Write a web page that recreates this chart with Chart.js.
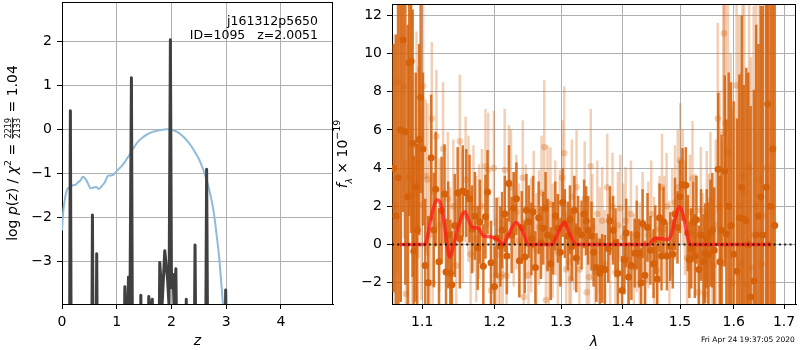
<!DOCTYPE html>
<html><head><meta charset="utf-8">
<script src="https://cdn.jsdelivr.net/npm/chart.js@4.4.1/dist/chart.umd.min.js"></script>
<style>
html,body{margin:0;padding:0;background:#fff;width:800px;height:350px;overflow:hidden;}
#cl{position:absolute;left:0;top:0;}
#cr{position:absolute;left:320px;top:0;}
</style></head><body>
<canvas id="cl" width="345" height="350"></canvas>
<canvas id="cr" width="480" height="350"></canvas>
<script>
// ---------------- LEFT PANEL DATA ----------------
const zTicks = [0, 1, 2, 3, 4];
const lpTicks = [-3, -2, -1, 0, 1, 2];
// smooth (blue) curve
const zB = [0,0.02,0.05,0.08,0.11,0.15,0.20,0.25,0.29,0.34,0.38,0.41,0.44,0.48,0.52,0.56,0.59,0.63,0.67,0.72,
  0.78,0.82,0.84,0.88,0.93,0.98,1.02,1.08,1.14,1.18,1.23,1.28,1.33,1.39,1.45,1.54,1.63,1.72,1.81,1.90,
  1.96,2.05,2.15,2.24,2.33,2.42,2.51,2.58,2.64,2.69,2.73,2.78,2.82,2.87,2.91,2.94,2.97];
const lpB = [-2.3,-1.9,-1.61,-1.42,-1.34,-1.33,-1.27,-1.26,-1.21,-1.16,-1.08,-1.1,-1.15,-1.25,-1.34,-1.33,-1.32,-1.31,-1.36,-1.3,
  -1.21,-1.1,-1.06,-1.05,-1.04,-0.98,-0.92,-0.85,-0.76,-0.68,-0.59,-0.48,-0.38,-0.28,-0.21,-0.13,-0.07,-0.04,-0.02,0.0,
  0.0,-0.03,-0.1,-0.2,-0.33,-0.5,-0.7,-0.92,-1.15,-1.38,-1.6,-1.95,-2.36,-2.9,-3.5,-3.97,-4.5];
// p(z) spikes (dark)
const zP = [0,0.135,0.153,0.17, 0.54,0.556,0.572, 0.62,0.634,0.65,
  1.13,1.148,1.17,1.198,1.214,1.24,1.268,1.29, 1.42,1.44,1.46, 1.565,1.585,1.615,1.65,1.67,
  1.765,1.786,1.83,1.877,1.93,1.955,1.98,2.0,2.03,2.05,2.08,2.105, 2.25,2.27,2.29, 2.41,2.43,2.45,
  2.62,2.642,2.665, 2.97,2.99,3.01, 4.95];
const lpP = [-6,-6,0.42,-6, -6,-1.95,-6, -6,-2.83,-6,
  -6,-3.58,-4.6,-4.5,-3.36,-4.3,1.17,-6, -6,-3.77,-6, -6,-3.8,-4.3,-3.86,-6,
  -6,-3.03,-3.95,-2.76,-3.44,-4.0,2.03,-3.6,-3.3,-4.2,-3.17,-6, -6,-3.86,-6, -6,-2.63,-6,
  -6,-0.91,-6, -6,-3.65,-6, -6];
const annot = ['j161312p5650', 'ID=1095   z=2.0051'];

// ---------------- RIGHT PANEL DATA ----------------
const lamTicks = [1.1, 1.2, 1.3, 1.4, 1.5, 1.6, 1.7];
const fTicks = [-2, 0, 2, 4, 6, 8, 10, 12];
const zeroLevel = [0];
const lamD = [1.063,1.066,1.069,1.072,1.075,1.078,1.081,1.083,1.0855,1.0875,
  1.089,1.0915,1.0935,1.096,1.098,1.101,1.104,1.108,1.112,1.1155,
  1.118,1.1225,1.126,1.130,1.132,1.135,1.138,1.140,1.144,1.148,
  1.151,1.155,1.160,1.1645,1.168,1.172,1.176,1.179,1.184,1.187,
  1.190,1.195,1.200,1.203,1.2085,1.211,1.215,1.218,1.221,1.225,
  1.228,1.232,1.2365,1.240,1.2445,1.247,1.2505,1.2545,1.257,1.2605,
  1.2655,1.269,1.2725,1.276,1.279,1.284,1.2875,1.291,1.295,1.299,
  1.3025,1.306,1.3105,1.314,1.317,1.321,1.324,1.327,1.3325,1.3365,
  1.340,1.343,1.3485,1.352,1.3565,1.362,1.366,1.3705,1.376,1.3785,
  1.384,1.388,1.392,1.399,1.403,1.406,1.410,1.4148,1.4205,1.424,
  1.428,1.4315,1.434,1.438,1.4425,1.4475,1.453,1.456,1.4595,1.4635,
  1.467,1.4705,1.4765,1.4825,1.487,1.491,1.4955,1.500,1.5045,1.5105,
  1.514,1.517,1.5205,1.524,1.527,1.530,1.5345,1.5385,1.543,1.546,
  1.549,1.552,1.556,1.5595,1.563,1.5705,1.5737,1.5768,1.583,1.586,
  1.5905,1.595,1.600,1.6065,1.611,1.6155,1.6195,1.6245,1.6285,1.633,
  1.6395,1.644,1.6485,1.653,1.657,1.664,1.667,1.6725,1.677,1.681];
const fluxD = [4.0,1.5,3.5,6.0,10.7,5.9,2.5,9.5,9.6,5.3,
  -0.35,3.0,0.76,5.5,7.7,5.0,-1.1,-2.0,4.55,0.76,
  2.9,-0.9,1.8,2.65,-1.44,0.5,-1.5,-2.1,1.0,2.7,
  0.3,2.8,2.7,2.4,0.8,1.5,-0.17,1.2,-1.13,1.46,
  2.75,-0.95,-2.2,0.35,-0.1,0.76,1.6,-0.6,3.2,0.5,
  1.9,2.4,-0.85,0.9,-0.65,1.8,1.2,0.3,1.7,-1.2,
  1.4,0.1,0.85,1.9,0.5,-1.0,0.33,1.5,0.85,-0.4,
  2.2,1.1,0.45,1.3,-0.1,1.8,-0.7,0.75,0.5,1.6,
  1.25,0.75,0.45,-0.4,-1.2,-1.5,-1.25,-1.3,-0.2,1.25,
  0.75,0.1,-1.5,-2.4,-0.8,0.6,-1.7,-1.1,-0.45,0.5,
  -0.45,-2.0,1.1,-1.6,0.9,-0.3,-1.0,0.25,-1.8,1.4,
  -0.6,1.2,-0.6,-0.1,-0.5,1.6,0.9,2.5,3.15,3.1,
  0.6,-0.8,-0.2,1.2,-0.6,1.3,-1.3,0.5,-0.9,-0.45,
  0.3,-0.5,0.6,0.75,-0.3,3.94,-0.9,0.75,3.85,0.55,
  2.0,1.0,-0.5,-1.4,1.4,3.0,1.35,1.25,0.0,-2.75,
  -1.9,0.5,1.5,2.5,0.5,3.0,7.36,2.0,5.0,1.0];
const errD = [6.5,9.5,10,9,9,8,9,8,9,7,
  5,6,4.5,5,5,4,3.5,3.5,3.3,3.0,
  3.0,2.8,2.8,2.6,2.8,2.8,2.8,2.8,2.7,2.4,
  2.6,2.4,2.3,2.3,2.3,2.3,2.2,2.2,2.2,2.2,
  2.2,2.2,2.1,2.1,2.1,2.0,2.0,2.0,2.0,2.0,
  1.9,1.9,1.9,1.9,1.9,1.9,1.9,1.9,1.9,1.9,
  1.9,1.9,1.9,1.9,1.9,1.9,1.9,1.8,1.8,1.8,
  1.8,1.8,1.8,1.8,1.8,1.8,1.8,1.8,1.8,1.8,
  1.8,1.8,1.8,1.8,1.8,1.8,1.8,1.8,1.8,1.8,
  1.8,1.8,1.8,1.8,1.8,1.8,1.8,1.8,1.8,1.8,
  1.8,1.8,1.8,1.8,1.8,1.8,1.8,1.8,1.8,1.8,
  1.8,1.8,1.8,1.8,1.8,1.9,1.9,1.9,1.9,2.0,
  2.0,2.0,2.1,2.1,2.2,2.3,2.3,2.4,2.5,2.6,
  2.6,2.7,2.8,3.0,3.3,4.0,4.5,5.0,5.0,6.0,
  7,7.5,8,8,7.5,9,7,8,9,10,
  10,11,9,10,12,14,12,15,15,20];
const lamL = [1.064,1.068,1.0715,1.076,1.0786,1.082,1.087,1.0926,1.095,1.099,
  1.1013,1.1045,1.107,1.110,1.1128,1.114,1.119,1.123,1.128,1.1345,
  1.138,1.142,1.146,1.151,1.155,1.159,1.163,1.166,1.170,1.174,
  1.178,1.182,1.187,1.191,1.195,1.199,1.202,1.206,1.2085,1.212,
  1.2148,1.2175,1.221,1.224,1.228,1.232,1.236,1.2415,1.243,1.246,
  1.250,1.254,1.258,1.262,1.266,1.270,1.274,1.2765,1.279,1.281,
  1.2835,1.287,1.291,1.295,1.298,1.302,1.305,1.308,1.313,1.3154,
  1.317,1.3205,1.3245,1.329,1.3375,1.3408,1.3445,1.3473,1.350,1.354,
  1.358,1.362,1.3661,1.370,1.3743,1.379,1.383,1.388,1.392,1.396,
  1.401,1.405,1.410,1.414,1.419,1.424,1.429,1.434,1.439,1.444,
  1.449,1.454,1.459,1.4635,1.4678,1.472,1.476,1.481,1.486,1.491,
  1.496,1.5005,1.505,1.509,1.513,1.518,1.5227,1.528,1.5337,1.538,
  1.542,1.546,1.549,1.553,1.556,1.559,1.562,1.566,1.5696,1.573,
  1.5775,1.5803,1.5816,1.5845,1.589,1.594,1.598,1.6056,1.610,1.614,
  1.617,1.6205,1.626,1.630,1.634,1.639,1.644,1.6507,1.655,1.660,
  1.665,1.670,1.675];
const fluxL = [2.0,8.5,6.0,8.3,-2.57,3.5,2.6,5.15,4.3,2.1,
  8.3,3.6,3.4,0.5,6.6,-2.0,5.65,1.0,5.0,2.4,
  -0.5,2.0,-1.1,5.4,1.5,3.4,2.4,-0.5,1.9,0.3,
  1.2,2.0,4.1,3.9,-2.4,4.0,-1.6,-0.5,-1.7,-1.55,
  3.9,-1.65,3.25,3.0,0.8,1.7,0.2,3.5,-2.75,1.2,
  -1.6,0.5,1.9,-0.3,0.9,2.7,5.1,-2.9,2.2,-1.2,
  2.1,0.2,1.4,-0.4,0.9,3.5,4.78,-1.3,-0.9,-1.8,
  2.5,0.6,3.0,-1.3,2.4,-2.5,-1.7,4.1,0.9,-1.4,
  1.6,0.2,1.25,-1.0,3.0,-0.3,2.0,-1.45,1.0,1.9,
  0.4,1.25,-0.8,1.6,-1.2,0.3,-0.6,1.0,-1.8,0.5,
  1.6,-0.3,-1.35,0.8,3.0,0.8,2.0,-0.5,1.2,2.2,
  3.0,4.4,3.0,1.4,-0.7,1.7,3.47,0.5,-2.5,1.8,
  -0.6,-2.6,1.5,0.2,2.3,-1.6,-1.1,1.0,6.6,2.0,
  -1.0,5.85,11.06,6.35,4.8,1.0,-2.0,8.33,2.0,-1.0,
  3.6,2.7,-2.1,4.0,-1.2,0.5,2.0,3.35,-1.0,1.5,
  4.0,0.0,2.0];
const errL = [9,10,9,8,7,7,6,6,5,5,
  4.5,4,4,4,4,3.5,3.5,3.5,3.5,3.5,
  3.5,3.5,3.5,3.5,3.5,3.3,3.3,3.3,3.3,3.3,
  3,3,3,3,3,3,3,3,3,3,
  3.2,3,3,3,3,3,3,3,3,3,
  3,3,3,3,3,3,3.5,3,3,3,
  3,3,3,3,3,3,3.5,3,3,3,
  3,3,3,3,3,3,3,3,2.8,2.8,
  2.8,2.8,2.8,2.8,2.8,2.8,2.8,2.8,2.8,2.8,
  2.8,2.8,2.8,2.8,2.8,2.8,2.8,2.8,2.8,2.8,
  2.8,2.8,2.8,2.8,2.8,2.8,2.8,2.8,2.8,3,
  3,3,3,3,3,3,3,3.2,3.2,3.3,
  3.3,3.4,3.4,3.5,3.6,3.8,4,4.5,5,6,
  6.5,7,9,7,8,9,9,10,10,10,
  9,10,11,11,11,12,12,12,13,14,
  14,15,15];
const lamM = [1.071,1.1036,1.108,1.113,1.1199,1.125,1.130,1.1371,1.142,1.148,
  1.1577,1.163,1.1684,1.1763,1.1843,1.1904,1.1976,1.2048,1.212,1.220,
  1.2316,1.240,1.250,1.2867,1.295,1.305,1.313,1.3242,1.4446,1.452,
  1.459,1.4678,1.4784,1.4843,1.490,1.4987,1.503,1.508,1.513,1.518,1.674];
const fluxM = [0,0,0.6,1.6,2.33,2.1,1.0,-0.66,-0.1,0.8,
  1.72,1.3,0.91,0.87,0.45,0.42,0.38,0.26,0,0.5,
  1.16,0.8,0,0,0.6,1.16,0.6,0,0,0.25,
  0.33,0.3,0.26,0.52,1.2,1.98,1.8,1.25,0.5,0,0];
const stamp = 'Fri Apr 24 19:37:05 2020';

// ---------------- helpers ----------------
const FAM = '"DejaVu Sans"';
Chart.defaults.font.family = FAM;
Chart.defaults.font.size = 14;
Chart.defaults.color = '#000';
const fmt = v => (v < 0 ? '\u2212' + Math.abs(v) : String(v));
const pts = (xs, ys) => xs.map((x, i) => ({x: x, y: ys[i]}));
function bars(xs, ys, es) {
  const out = [];
  xs.forEach((x, i) => { out.push({x: x, y: ys[i] - es[i]}, {x: x, y: ys[i] + es[i]}, {x: x, y: null}); });
  return out;
}
function drawRich(ctx, parts, cx, cy, rot) {
  ctx.save();
  ctx.translate(cx, cy); ctx.rotate(rot);
  ctx.fillStyle = '#000'; ctx.textBaseline = 'alphabetic';
  const ws = parts.map(p => {
    ctx.font = p.font;
    if (p.frac) return Math.max(ctx.measureText(p.num).width, ctx.measureText(p.den).width) + 2;
    return ctx.measureText(p.t).width;
  });
  let x = -ws.reduce((a, b) => a + b, 0) / 2;
  parts.forEach((p, i) => {
    ctx.font = p.font;
    if (p.frac) {
      ctx.textAlign = 'center';
      ctx.fillText(p.num, x + ws[i] / 2, p.ny);
      ctx.fillText(p.den, x + ws[i] / 2, p.dy);
      ctx.fillRect(x + 0.5, p.by, ws[i] - 1, 0.9);
    } else {
      ctx.textAlign = 'left';
      ctx.fillText(p.t, x, p.y || 0);
    }
    x += ws[i];
  });
  ctx.restore();
}
function spines(ctx, a) {
  ctx.save();
  ctx.strokeStyle = '#000'; ctx.lineWidth = 1;
  ctx.beginPath();
  ctx.moveTo(a.left, Math.round(a.top) + 0.5); ctx.lineTo(a.right, Math.round(a.top) + 0.5);
  ctx.moveTo(Math.round(a.right) - 0.5, a.top); ctx.lineTo(Math.round(a.right) - 0.5, a.bottom);
  ctx.stroke();
  ctx.restore();
}
const gridOpts = {color: '#b0b0b0', lineWidth: 1, tickLength: 5, tickColor: '#000', tickWidth: 1};
const borderOpts = {color: '#000', width: 1};
const N = '14px ' + FAM, I = 'italic 14px ' + FAM;

// ---------------- LEFT CHART ----------------
const leftDeco = {
  id: 'leftDeco',
  afterDraw(chart) {
    const {ctx, chartArea: a} = chart;
    spines(ctx, a);
    ctx.save();
    ctx.fillStyle = '#000'; ctx.textBaseline = 'alphabetic';
    ctx.font = '12.5px ' + FAM; ctx.textAlign = 'right';
    ctx.fillText(annot[0], a.right - 15, 25);
    ctx.fillText(annot[1], a.right - 15, 39);
    ctx.font = I; ctx.textAlign = 'center';
    ctx.fillText('z', (a.left + a.right) / 2, 345);
    ctx.restore();
    drawRich(ctx, [
      {t: 'log ', font: N}, {t: 'p', font: I}, {t: '(', font: N}, {t: 'z', font: I},
      {t: ') / ', font: N}, {t: '\u03c7', font: I}, {t: '2', font: '9.5px ' + FAM, y: -6},
      {t: ' = ', font: N},
      {frac: true, num: '2219', den: '2133', font: '8px ' + FAM, ny: -6, dy: 3.8, by: -4.6},
      {t: ' = 1.04', font: N}
    ], 16.5, (a.top + a.bottom) / 2, -Math.PI / 2);
  }
};
new Chart(document.getElementById('cl'), {
  type: 'line',
  data: {datasets: [
    {data: pts(zP, lpP), borderColor: '#404040', borderWidth: 3, pointRadius: 0, tension: 0,
     borderJoinStyle: 'round', order: 0, clip: 0},
    {data: pts(zB, lpB), borderColor: 'rgb(143,187,217)', borderWidth: 2, pointRadius: 0,
     cubicInterpolationMode: 'monotone', order: 1, clip: 0}
  ]},
  options: {
    responsive: false, animation: false, devicePixelRatio: 1, events: [],
    layout: {padding: {top: 2, right: 12, left: 0, bottom: 0}},
    plugins: {legend: {display: false}, tooltip: {enabled: false}},
    scales: {
      x: {type: 'linear', min: 0, max: 4.95,
        afterBuildTicks: s => { s.ticks = zTicks.map(v => ({value: v})); },
        afterFit: s => { s.height = 46; s.paddingLeft = 0; s.paddingRight = 0; },
        grid: gridOpts, border: borderOpts,
        ticks: {padding: 5, maxRotation: 0, autoSkip: false, callback: v => fmt(v)}},
      y: {type: 'linear', min: -3.97, max: 2.89,
        afterBuildTicks: s => { s.ticks = lpTicks.map(v => ({value: v})); },
        afterFit: s => { s.width = 62; s.paddingTop = 0; s.paddingBottom = 0; },
        grid: gridOpts, border: borderOpts,
        ticks: {padding: 5, autoSkip: false, callback: v => fmt(v)}}
    }
  },
  plugins: [leftDeco]
});

// ---------------- RIGHT CHART ----------------
const C = 'rgb(213,97,11)';
const DARK_BAR = 'rgba(213,97,11,0.85)';
const LIGHT = 'rgba(213,97,11,0.3)';
const X_MIN = 1.0608, X_MAX = 1.7246;
const rightDeco = {
  id: 'rightDeco',
  afterDraw(chart) {
    const {ctx, chartArea: a} = chart;
    spines(ctx, a);
    ctx.save();
    ctx.fillStyle = '#000'; ctx.textBaseline = 'alphabetic';
    ctx.font = I; ctx.textAlign = 'center';
    ctx.fillText('\u03bb', (a.left + a.right) / 2, 346);
    ctx.font = '7.5px ' + FAM; ctx.textAlign = 'left';
    ctx.fillText(stamp, 381, 342);
    ctx.restore();
    drawRich(ctx, [
      {t: 'f', font: I}, {t: '\u03bb', font: 'italic 9px ' + FAM, y: 4.5},
      {t: ' \u00d7 10', font: N}, {t: '\u221219', font: '9.5px ' + FAM, y: -7}
    ], 27, (a.top + a.bottom) / 2, -Math.PI / 2);
  }
};
new Chart(document.getElementById('cr'), {
  type: 'line',
  data: {datasets: [
    {data: bars(lamL, fluxL, errL), borderColor: LIGHT, borderWidth: 2.5, borderCapStyle: 'butt',
     pointRadius: 0, spanGaps: false, order: 6, clip: 0, segment: {borderColor: () => LIGHT}},
    {data: pts(lamL, fluxL), showLine: false, pointRadius: 3.3, pointBorderWidth: 0,
     pointBackgroundColor: LIGHT, order: 5, clip: 0},
    {data: bars(lamD, fluxD, errD), borderColor: DARK_BAR, borderWidth: 2.5, borderCapStyle: 'butt',
     pointRadius: 0, spanGaps: false, order: 4, clip: 0, segment: {borderColor: () => DARK_BAR}},
    {data: pts(lamD, fluxD), showLine: false, pointRadius: 3.5, pointBorderWidth: 0,
     pointBackgroundColor: C, order: 3, clip: 0},
    {data: pts(lamM, fluxM), borderColor: 'rgba(255,25,25,0.72)', borderWidth: 3.5, pointRadius: 0,
     cubicInterpolationMode: 'monotone', order: 2, clip: 0},
    {data: [{x: X_MIN, y: zeroLevel[0]}, {x: X_MAX, y: zeroLevel[0]}], borderColor: 'rgba(0,0,0,0.85)',
     borderWidth: 2, borderDash: [2, 3.3], pointRadius: 0, order: 1, clip: 0}
  ]},
  options: {
    responsive: false, animation: false, devicePixelRatio: 1, events: [],
    layout: {padding: {top: 2, right: 1, left: 0, bottom: 0}},
    plugins: {legend: {display: false}, tooltip: {enabled: false}},
    scales: {
      x: {type: 'logarithmic', min: X_MIN, max: X_MAX,
        afterBuildTicks: s => { s.ticks = lamTicks.map(v => ({value: v})); },
        afterFit: s => { s.height = 46; s.paddingLeft = 0; s.paddingRight = 0; },
        grid: gridOpts, border: borderOpts,
        ticks: {padding: 5, maxRotation: 0, autoSkip: false, callback: v => Number(v).toFixed(1)}},
      y: {type: 'linear', min: -3.11, max: 12.59,
        afterBuildTicks: s => { s.ticks = fTicks.map(v => ({value: v})); },
        afterFit: s => { s.width = 72; s.paddingTop = 0; s.paddingBottom = 0; },
        grid: gridOpts, border: borderOpts,
        ticks: {padding: 5, autoSkip: false, callback: v => fmt(v)}}
    }
  },
  plugins: [rightDeco]
});
</script>
</body></html>
